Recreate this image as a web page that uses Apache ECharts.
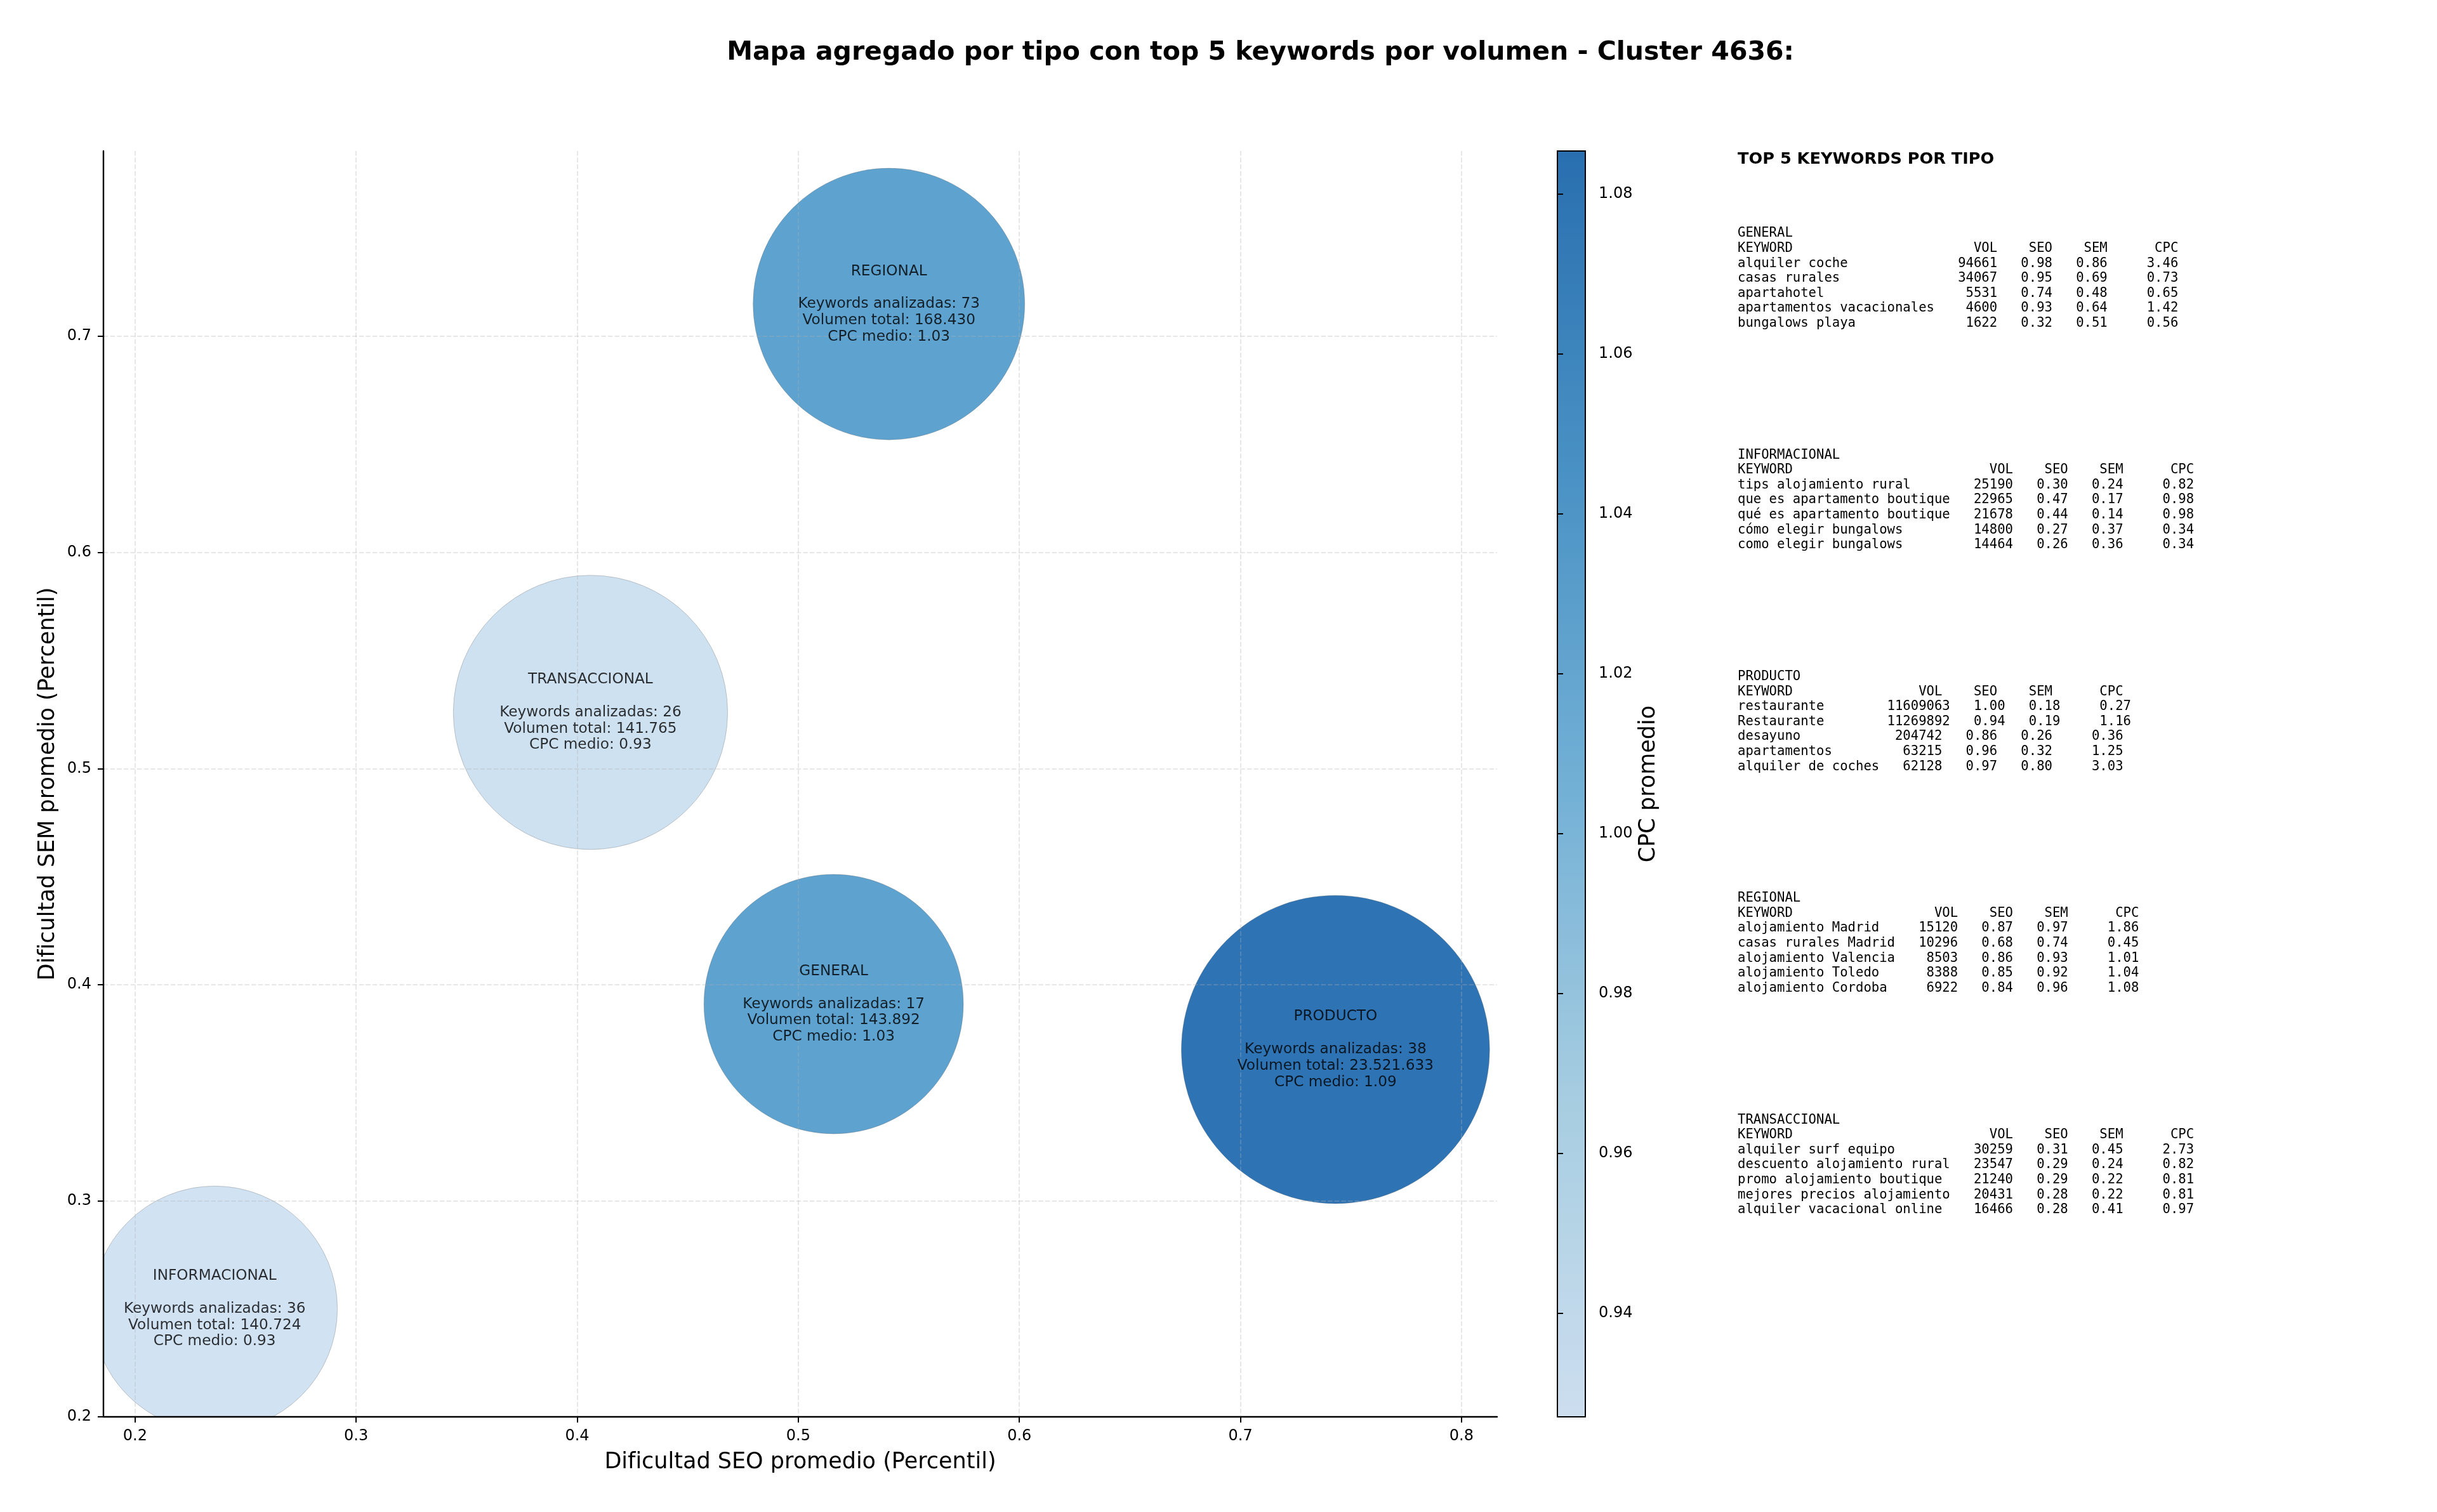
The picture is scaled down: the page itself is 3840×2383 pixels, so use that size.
<!DOCTYPE html>
<html lang="es">
<head>
  <meta charset="UTF-8">
  <title>Mapa agregado por tipo - Cluster 4636</title>
  <style>
    html, body { margin: 0; padding: 0; background: #fff; }
    #chart { width: 3840px; height: 2383px; }
  </style>
</head>
<body>
  <div id="chart"></div>
  <script src="https://cdn.jsdelivr.net/npm/echarts@6.0.0/dist/echarts.min.js"></script>
  <script>
    // datos agregados por tipo
    const tipos = ['GENERAL', 'INFORMACIONAL', 'PRODUCTO', 'REGIONAL', 'TRANSACCIONAL']
    const seoMedio = [0.516, 0.236, 0.743, 0.541, 0.406]
    const semMedio = [0.391, 0.250, 0.370, 0.715, 0.526]
    const cpcMedio = [1.03, 0.927, 1.0854, 1.03, 0.93]
    const numKeywords = [17, 36, 38, 73, 26]
    const volumenTotal = [143892, 140724, 23521633, 168430, 141765]
    // tamaño relativo de burbuja
    const tamanoBurbuja = [41.8, 37.4, 59.0, 45.8, 46.7]

    const seoTicks = [0.2, 0.3, 0.4, 0.5, 0.6, 0.7, 0.8]
    const semTicks = [0.2, 0.3, 0.4, 0.5, 0.6, 0.7]
    const cpcTicks = [0.94, 0.96, 0.98, 1.00, 1.02, 1.04, 1.06, 1.08]

    // top 5 keywords: [keyword, vol, seo, sem, cpc]
    const topGeneral = [
      ['alquiler coche', 94661, 0.98, 0.86, 3.46],
      ['casas rurales', 34067, 0.95, 0.69, 0.73],
      ['apartahotel', 5531, 0.74, 0.48, 0.65],
      ['apartamentos vacacionales', 4600, 0.93, 0.64, 1.42],
      ['bungalows playa', 1622, 0.32, 0.51, 0.56]
    ]
    const topInformacional = [
      ['tips alojamiento rural', 25190, 0.30, 0.24, 0.82],
      ['que es apartamento boutique', 22965, 0.47, 0.17, 0.98],
      ['qué es apartamento boutique', 21678, 0.44, 0.14, 0.98],
      ['cómo elegir bungalows', 14800, 0.27, 0.37, 0.34],
      ['como elegir bungalows', 14464, 0.26, 0.36, 0.34]
    ]
    const topProducto = [
      ['restaurante', 11609063, 1.00, 0.18, 0.27],
      ['Restaurante', 11269892, 0.94, 0.19, 1.16],
      ['desayuno', 204742, 0.86, 0.26, 0.36],
      ['apartamentos', 63215, 0.96, 0.32, 1.25],
      ['alquiler de coches', 62128, 0.97, 0.80, 3.03]
    ]
    const topRegional = [
      ['alojamiento Madrid', 15120, 0.87, 0.97, 1.86],
      ['casas rurales Madrid', 10296, 0.68, 0.74, 0.45],
      ['alojamiento Valencia', 8503, 0.86, 0.93, 1.01],
      ['alojamiento Toledo', 8388, 0.85, 0.92, 1.04],
      ['alojamiento Cordoba', 6922, 0.84, 0.96, 1.08]
    ]
    const topTransaccional = [
      ['alquiler surf equipo', 30259, 0.31, 0.45, 2.73],
      ['descuento alojamiento rural', 23547, 0.29, 0.24, 0.82],
      ['promo alojamiento boutique', 21240, 0.29, 0.22, 0.81],
      ['mejores precios alojamiento', 20431, 0.28, 0.22, 0.81],
      ['alquiler vacacional online', 16466, 0.28, 0.41, 0.97]
    ]
    const bloques = [topGeneral, topInformacional, topProducto, topRegional, topTransaccional]

    const FONT = '"DejaVu Sans", "Noto Sans", sans-serif'
    const MONO = '"DejaVu Sans Mono", "Liberation Mono", monospace'

    const puntos = tipos.map((t, i) => [
      seoMedio[i], semMedio[i], cpcMedio[i], numKeywords[i], volumenTotal[i], tamanoBurbuja[i], t
    ])

    const miles = v => String(v).replace(/\B(?=(\d{3})+(?!\d))/g, '.')

    // tabla en texto monoespaciado
    function bloqueTexto(nombre, filas) {
      const w = Math.max(...filas.map(f => f[0].length))
      const cab = 'KEYWORD'.padEnd(w) + ' ' + 'VOL'.padStart(7) + ' ' + 'SEO'.padStart(6) +
        ' ' + 'SEM'.padStart(6) + ' ' + 'CPC'.padStart(8)
      const lineas = filas.map(f => f[0].padEnd(w) + ' ' + String(f[1]).padStart(7) + ' ' +
        f[2].toFixed(2).padStart(6) + ' ' + f[3].toFixed(2).padStart(6) + ' ' + f[4].toFixed(2).padStart(8))
      return [nombre, cab, ...lineas].join('\n')
    }

    const graficos = [
      {
        type: 'text', x: 1986, y: 83,
        style: { text: 'Mapa agregado por tipo con top 5 keywords por volumen - Cluster 4636:',
          font: 'bold 41px ' + FONT, fill: '#000', align: 'center', verticalAlign: 'middle' }
      },
      {
        type: 'text', x: 2738, y: 251,
        style: { text: 'TOP 5 KEYWORDS POR TIPO', font: 'bold 25.6px ' + FONT, fill: '#000',
          align: 'left', verticalAlign: 'middle' }
      }
    ]
    bloques.forEach((filas, i) => {
      graficos.push({
        type: 'text', x: 2738, y: 368 + i * 349.3 - 11.8,
        style: { text: bloqueTexto(tipos[i], filas), font: '20.6px ' + MONO, lineHeight: 23.6,
          fill: '#000', align: 'left', verticalAlign: 'top' }
      })
    })

    const etiqueta = p => {
      const d = p.data
      return d[6] + '\n\nKeywords analizadas: ' + d[3] + '\nVolumen total: ' + miles(d[4]) +
        '\nCPC medio: ' + d[2].toFixed(2)
    }

    // burbuja recortada al área de ejes
    function dibujaBurbuja(params, api) {
      const c = api.coord([api.value(0), api.value(1)])
      const r = Math.sqrt(api.value(5) * 1000)
      return {
        type: 'circle',
        shape: { cx: c[0], cy: c[1], r: r },
        style: { fill: api.visual('color'), stroke: 'rgba(110,110,110,0.35)', lineWidth: 1 }
      }
    }

    const chart = echarts.init(document.getElementById('chart'))

    const option = {
      animation: false,
      backgroundColor: '#fff',
      textStyle: { fontFamily: FONT },
      graphic: graficos,
      grid: [
        { left: 163, top: 238, width: 2196, height: 1995, show: false, outerBoundsMode: 'none' },
        { left: 2454, top: 238, width: 44, height: 1995, show: true, z: 6,
          backgroundColor: 'transparent', borderColor: '#000', borderWidth: 2, outerBoundsMode: 'none' }
      ],
      xAxis: [
        {
          type: 'value', gridIndex: 0, min: 0.1857, max: 0.8161, z: 1,
          name: 'Dificultad SEO promedio (Percentil)', nameLocation: 'middle', nameGap: 54,
          nameTextStyle: { fontSize: 35, color: '#000', fontFamily: FONT },
          axisLine: { show: true, onZero: false, lineStyle: { color: '#000', width: 2.4 } },
          axisTick: { show: true, length: 9, customValues: seoTicks, lineStyle: { color: '#000', width: 2 } },
          axisLabel: { customValues: seoTicks, margin: 19, fontSize: 24, color: '#000', fontFamily: FONT,
            formatter: v => v.toFixed(1) },
          splitLine: { show: true, lineStyle: { color: 'rgba(176,176,176,0.3)', width: 2, type: [7.4, 3.2] } }
        },
        { type: 'value', gridIndex: 1, min: 0, max: 1, show: false }
      ],
      yAxis: [
        {
          type: 'value', gridIndex: 0, min: 0.2, max: 0.7858, z: 1,
          name: 'Dificultad SEM promedio (Percentil)', nameLocation: 'middle', nameGap: 70,
          nameTextStyle: { fontSize: 35, color: '#000', fontFamily: FONT },
          axisLine: { show: true, onZero: false, lineStyle: { color: '#000', width: 2.4 } },
          axisTick: { show: true, length: 9, customValues: semTicks, lineStyle: { color: '#000', width: 2 } },
          axisLabel: { customValues: semTicks, margin: 19, fontSize: 24, color: '#000', fontFamily: FONT,
            formatter: v => v.toFixed(1) },
          splitLine: { show: true, lineStyle: { color: 'rgba(176,176,176,0.3)', width: 2, type: [7.4, 3.2] } }
        },
        {
          type: 'value', gridIndex: 1, position: 'right', min: 0.927, max: 1.0854, z: 7,
          name: 'CPC promedio', nameLocation: 'middle', nameGap: 82,
          nameTextStyle: { fontSize: 35, color: '#000', fontFamily: FONT },
          axisLine: { show: false },
          axisTick: { show: true, length: 9, customValues: cpcTicks, lineStyle: { color: '#000', width: 2 } },
          axisLabel: { customValues: cpcTicks, margin: 21, fontSize: 24, color: '#000', fontFamily: FONT,
            formatter: v => v.toFixed(2) },
          splitLine: { show: false }
        }
      ],
      visualMap: {
        type: 'continuous',
        seriesIndex: 0,
        dimension: 2,
        min: 0.927,
        max: 1.0854,
        calculable: false,
        hoverLink: false,
        left: 2454,
        top: 238,
        padding: 0,
        itemWidth: 44,
        itemHeight: 1995,
        text: null,
        inRange: {
          color: ['rgba(204,223,241,0.9)', 'rgba(162,204,226,0.9)', 'rgba(104,172,213,0.9)',
            'rgba(58,138,194,0.9)', 'rgba(23,100,171,0.9)']
        }
      },
      series: [
        {
          name: 'burbujas',
          type: 'custom',
          xAxisIndex: 0, yAxisIndex: 0,
          z: 0,
          clip: true,
          data: puntos,
          encode: { x: 0, y: 1 },
          renderItem: dibujaBurbuja,
          silent: true
        },
        {
          name: 'etiquetas',
          type: 'scatter',
          xAxisIndex: 0, yAxisIndex: 0,
          z: 5,
          clip: false,
          data: puntos,
          symbolSize: 1,
          itemStyle: { color: 'rgba(0,0,0,0)' },
          label: {
            show: true, position: 'inside', formatter: etiqueta,
            fontSize: 23.2, lineHeight: 25.8, color: '#000', fontFamily: FONT, align: 'center'
          },
          emphasis: { disabled: true },
          silent: true
        }
      ]
    }

    chart.setOption(option)
  </script>
</body>
</html>
